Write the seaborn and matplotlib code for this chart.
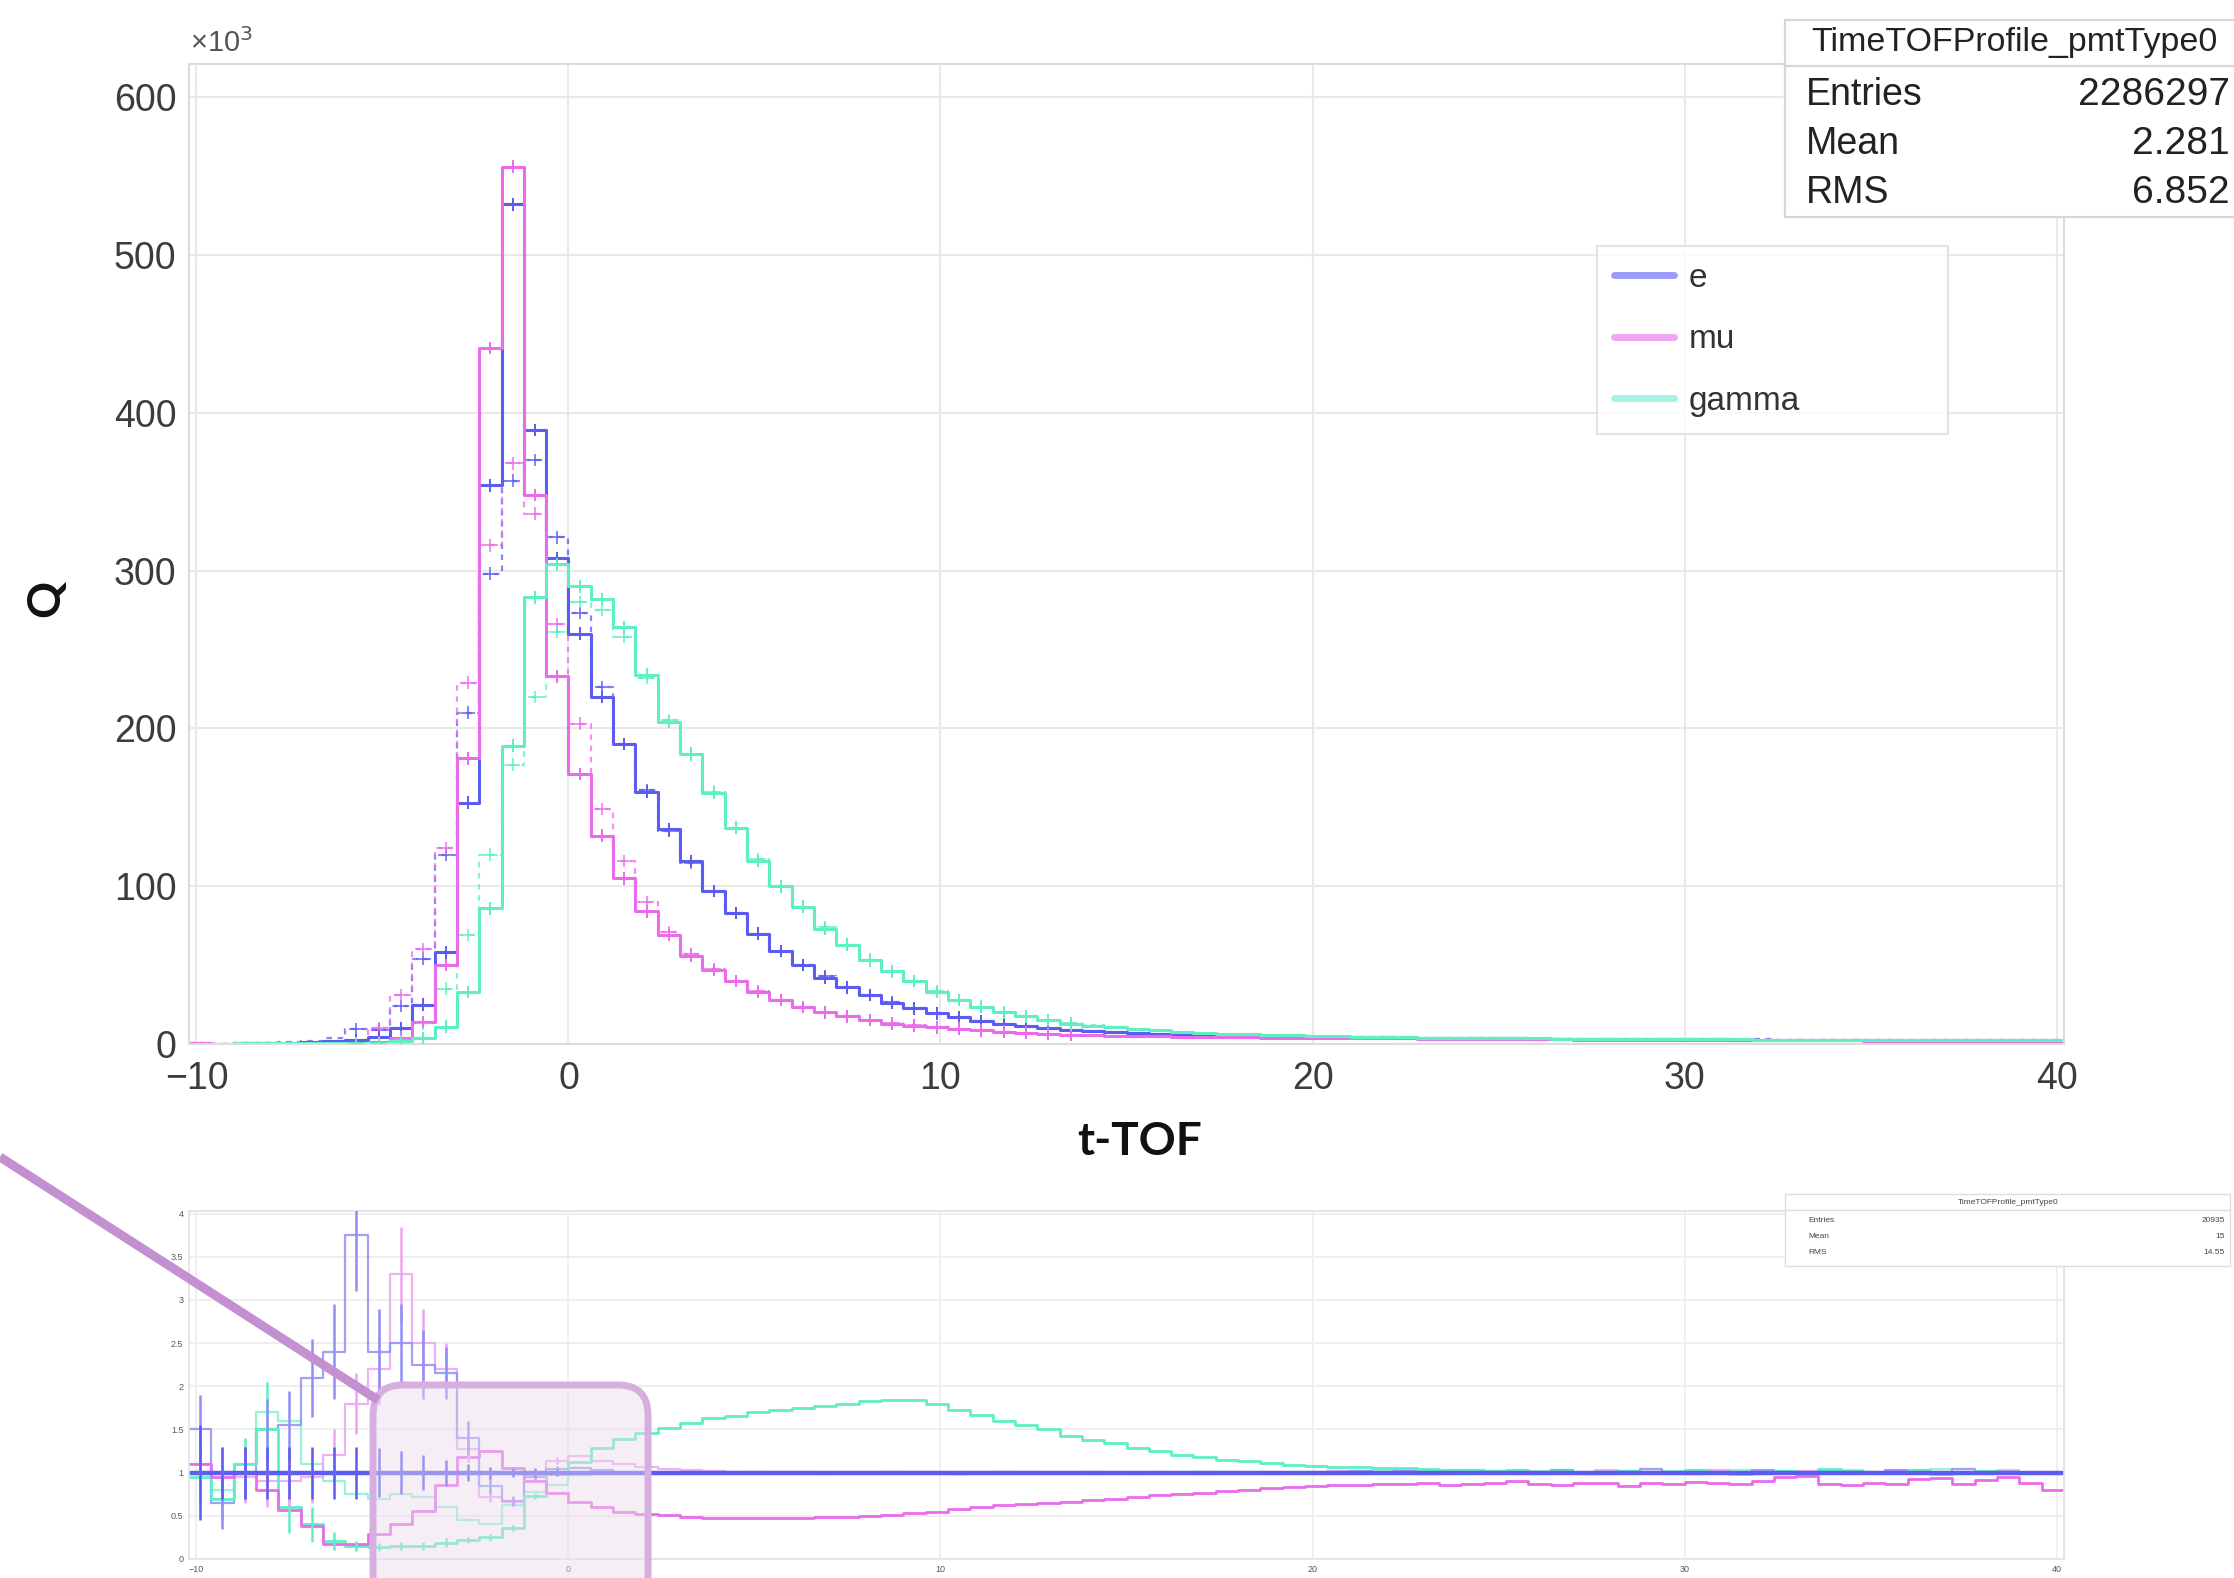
import numpy as np
import pandas as pd
import matplotlib
matplotlib.use("Agg")
import matplotlib.pyplot as plt
import seaborn as sns
from matplotlib.lines import Line2D
from matplotlib.patches import FancyBboxPatch, Rectangle
from matplotlib.ticker import MultipleLocator, FixedLocator, FixedFormatter
from matplotlib.transforms import IdentityTransform

# ---------------- data ----------------
bin_lo, bin_hi, n_bins = -10.2, 40.2, 84
x_ticks = [-10, 0, 10, 20, 30, 40]
x_ticklabels = ["\u221210", "0", "10", "20", "30", "40"]
y_ticks_top = [0, 100, 200, 300, 400, 500, 600]
y_ticks_bot = [0, 0.5, 1, 1.5, 2, 2.5, 3, 3.5, 4]
y_ticklabels_bot = ["0", "0.5", "1", "1.5", "2", "2.5", "3", "3.5", "4"]
series_names = ["e", "mu", "gamma"]

# top panel: Q per bin (x10^3), solid = sample A, dashed = sample B
e_solid = [0.3, 0.3, 0.4, 0.5, 0.7, 1.0, 1.6, 2.6, 4.5, 10,
           25, 58, 153, 354, 532, 389, 308, 260, 220, 190,
           160, 136, 116, 97, 83, 70, 59, 50, 42, 36,
           31, 26, 22.5, 19.5, 16.8, 14.5, 12.6, 11.2, 10.0, 9.0,
           8.2, 7.6, 7.0, 6.5, 6.1, 5.8, 5.5, 5.2, 5.0, 4.8,
           4.6, 4.4, 4.3, 4.15, 4.0, 3.9, 3.8, 3.7, 3.6, 3.5,
           3.4, 3.35, 3.3, 3.2, 3.15, 3.1, 3.0, 2.95, 2.9, 2.85,
           2.8, 2.75, 2.7, 2.65, 2.6, 2.55, 2.5, 2.45, 2.4, 2.4,
           2.35, 2.3, 2.3, 2.25]
mu_solid = [0.33, 0.3, 0.38, 0.4, 0.4, 0.38, 0.27, 0.45, 1.3, 4,
            14, 50, 181, 441, 556, 348, 233, 171, 132, 105,
            84, 69, 56, 47, 40, 33, 28, 23.4, 20, 17.6,
            15.2, 12.9, 11.7, 10.5, 9.7, 8.7, 7.8, 7.2, 6.5, 5.9,
            5.6, 5.2, 5.0, 4.8, 4.6, 4.4, 4.3, 4.15, 4.1, 4.0,
            3.9, 3.8, 3.75, 3.6, 3.5, 3.4, 3.3, 3.2, 3.15, 3.05,
            2.95, 2.9, 2.85, 2.8, 2.75, 2.7, 2.6, 2.55, 2.5, 2.45,
            2.4, 2.4, 2.35, 2.3, 2.25, 2.2, 2.15, 2.1, 2.1, 2.05,
            2.0, 2.0, 1.95, 1.9]
gamma_solid = [0.3, 0.2, 0.4, 0.7, 0.45, 0.4, 0.35, 0.4, 0.6, 1.6,
               3.5, 11, 33, 86, 189, 283, 304, 290, 282, 264,
               234, 204, 184, 159, 137, 116, 100, 87, 73, 63,
               53, 46, 40, 33, 28, 23.4, 20, 17.6, 15.2, 12.9,
               11.7, 10.5, 9.5, 8.6, 7.8, 7.1, 6.6, 6.1, 5.7, 5.4,
               5.1, 4.8, 4.6, 4.4, 4.25, 4.1, 4.0, 3.85, 3.7, 3.6,
               3.5, 3.4, 3.35, 3.25, 3.2, 3.1, 3.05, 3.0, 2.95, 2.9,
               2.85, 2.8, 2.75, 2.7, 2.65, 2.6, 2.55, 2.5, 2.45, 2.4,
               2.4, 2.35, 2.3, 2.25]
e_dash = [0.4, 0.3, 0.4, 0.75, 1.1, 2.1, 3.8, 9.6, 9, 24,
          54, 120, 210, 298, 357, 370, 321, 273, 226, 190,
          161, 135, 115, 97, 83, 70, 59, 50, 43, 36,
          31, 26.5, 22.5, 19.5, 17, 14.5, 12.8, 11.3, 10.0, 9.1,
          8.3, 7.6, 7.0, 6.6, 6.1, 5.8, 5.5, 5.3, 5.0, 4.8,
          4.6, 4.4, 4.35, 4.15, 4.1, 3.9, 3.75, 3.75, 3.65, 3.5,
          3.4, 3.45, 3.3, 3.15, 3.2, 3.2, 3.0, 2.9, 2.95, 2.85,
          2.9, 2.75, 2.7, 2.7, 2.65, 2.55, 2.6, 2.45, 2.4, 2.5,
          2.35, 2.3, 2.3, 2.25]
mu_dash = [0.35, 0.3, 0.36, 0.36, 0.36, 0.36, 0.4, 2.5, 10, 31,
           60, 124, 229, 316, 368, 336, 266, 203, 149, 116,
           90, 71, 57, 47.5, 40, 33.5, 28, 23.5, 20.2, 17.6,
           15.3, 13, 11.8, 10.6, 9.7, 8.8, 7.9, 7.2, 6.5, 5.9,
           5.6, 5.2, 5.0, 4.8, 4.6, 4.4, 4.3, 4.15, 4.1, 4.0,
           3.9, 3.8, 3.8, 3.6, 3.55, 3.4, 3.3, 3.25, 3.15, 3.05,
           3.0, 2.9, 2.85, 2.8, 2.75, 2.7, 2.65, 2.55, 2.5, 2.45,
           2.45, 2.4, 2.35, 2.3, 2.25, 2.25, 2.15, 2.1, 2.15, 2.05,
           2.0, 2.05, 1.95, 1.9]
gamma_dash = [0.3, 0.25, 0.35, 0.6, 0.5, 0.45, 0.4, 0.45, 0.8, 3,
              13, 35, 69, 120, 177, 220, 261, 280, 275, 258,
              232, 205, 183, 160, 137, 117, 100, 87, 74, 63,
              53.5, 46, 40, 33.5, 28, 23.6, 20.2, 17.6, 15.3, 13,
              11.8, 10.5, 9.6, 8.6, 7.8, 7.2, 6.6, 6.1, 5.7, 5.4,
              5.1, 4.85, 4.6, 4.45, 4.25, 4.1, 4.0, 3.85, 3.75, 3.6,
              3.5, 3.45, 3.35, 3.25, 3.2, 3.15, 3.05, 3.0, 2.95, 2.9,
              2.85, 2.8, 2.75, 2.75, 2.65, 2.6, 2.55, 2.55, 2.45, 2.4,
              2.4, 2.35, 2.3, 2.25]

# bottom panel: ratios
r_flat = [1.0, 1.0, 1.0, 1.0, 1.0, 1.0, 1.0, 1.0, 1.0, 1.0,
          1.0, 1.0, 1.0, 1.0, 1.0, 1.0, 1.0, 1.0, 1.0, 1.0,
          1.0, 1.0, 1.0, 1.0, 1.0, 1.0, 1.0, 1.0, 1.0, 1.0,
          1.0, 1.0, 1.0, 1.0, 1.0, 1.0, 1.0, 1.0, 1.0, 1.0,
          1.0, 1.0, 1.0, 1.0, 1.0, 1.0, 1.0, 1.0, 1.0, 1.0,
          1.0, 1.0, 1.0, 1.0, 1.0, 1.0, 1.0, 1.0, 1.0, 1.0,
          1.0, 1.0, 1.0, 1.0, 1.0, 1.0, 1.0, 1.0, 1.0, 1.0,
          1.0, 1.0, 1.0, 1.0, 1.0, 1.0, 1.0, 1.0, 1.0, 1.0,
          1.0, 1.0, 1.0, 1.0]
r_e_dash = [1.5, 0.65, 1.0, 1.5, 1.55, 2.1, 2.4, 3.75, 2.4, 2.5,
            2.25, 2.15, 1.4, 0.85, 0.67, 0.95, 1.04, 1.05, 1.03, 1.0,
            1.0, 0.99, 1.0, 1.0, 1.0, 1.01, 1.0, 1.0, 0.99, 1.0,
            1.0, 1.01, 1.0, 1.0, 0.99, 1.0, 1.01, 1.0, 1.0, 1.0,
            1.01, 1.0, 0.99, 1.0, 1.0, 1.01, 1.0, 1.0, 0.99, 1.0,
            1.01, 0.99, 1.02, 1.0, 1.03, 1.0, 0.99, 1.01, 1.02, 1.0,
            0.99, 1.03, 1.0, 0.98, 1.02, 1.04, 1.0, 0.99, 1.01, 1.0,
            1.03, 1.0, 0.99, 1.02, 1.01, 1.0, 1.03, 1.0, 0.99, 1.04,
            1.0, 1.01, 0.99, 1.0]
r_mu_dash = [1.1, 1.0, 0.95, 0.9, 0.9, 0.95, 1.2, 1.8, 2.2, 3.3,
             2.5, 2.2, 1.27, 0.72, 0.66, 0.97, 1.14, 1.19, 1.13, 1.1,
             1.07, 1.04, 1.03, 1.02, 1.01, 1.0, 1.0, 1.01, 1.0, 1.0,
             1.0, 1.0, 1.01, 1.0, 0.99, 1.0, 1.0, 1.01, 1.0, 1.0,
             0.99, 1.0, 1.0, 1.01, 1.0, 0.99, 1.0, 1.0, 1.01, 1.0,
             1.0, 1.02, 0.99, 1.0, 1.01, 0.98, 1.0, 1.02, 1.0, 0.99,
             1.01, 1.0, 0.98, 1.02, 1.0, 1.01, 0.99, 1.0, 1.03, 1.0,
             0.99, 1.01, 1.02, 1.0, 0.98, 1.0, 1.02, 1.0, 1.01, 0.99,
             1.0, 1.02, 1.0, 0.98]
r_mu = [1.1, 0.95, 1.0, 0.8, 0.57, 0.38, 0.17, 0.17, 0.29, 0.4,
        0.56, 0.86, 1.18, 1.25, 1.05, 0.9, 0.76, 0.66, 0.6, 0.55,
        0.52, 0.51, 0.49, 0.48, 0.48, 0.48, 0.48, 0.48, 0.49, 0.49,
        0.5, 0.51, 0.53, 0.55, 0.58, 0.6, 0.62, 0.64, 0.65, 0.66,
        0.68, 0.69, 0.72, 0.74, 0.75, 0.76, 0.79, 0.8, 0.82, 0.83,
        0.85, 0.86, 0.86, 0.87, 0.87, 0.88, 0.86, 0.87, 0.88, 0.9,
        0.87, 0.86, 0.88, 0.88, 0.84, 0.88, 0.87, 0.89, 0.88, 0.87,
        0.9, 0.95, 0.96, 0.87, 0.86, 0.88, 0.87, 0.93, 0.94, 0.87,
        0.92, 0.95, 0.88, 0.8]
r_gamma = [0.95, 0.7, 1.1, 1.5, 0.6, 0.4, 0.21, 0.15, 0.14, 0.15,
           0.15, 0.19, 0.22, 0.25, 0.36, 0.73, 0.99, 1.12, 1.28, 1.39,
           1.46, 1.52, 1.58, 1.63, 1.66, 1.7, 1.72, 1.75, 1.77, 1.8,
           1.83, 1.84, 1.84, 1.8, 1.72, 1.67, 1.6, 1.55, 1.5, 1.43,
           1.38, 1.34, 1.29, 1.25, 1.21, 1.18, 1.15, 1.13, 1.11, 1.09,
           1.08, 1.07, 1.06, 1.05, 1.05, 1.04, 1.03, 1.03, 1.02, 1.03,
           1.01, 1.02, 1.0, 1.01, 1.02, 1.0, 1.01, 1.03, 1.0, 0.99,
           1.01, 1.02, 1.0, 1.04, 1.02, 1.0, 1.01, 1.03, 0.99, 1.0,
           1.02, 1.01, 1.0, 1.0]
r_gamma_dash = [1.0, 0.8, 1.1, 1.7, 1.6, 1.1, 0.9, 0.75, 0.7, 0.75,
                0.72, 0.6, 0.45, 0.4, 0.62, 0.78, 0.86, 0.97, 0.98, 0.98,
                0.99, 1.0, 1.0, 0.99, 1.0, 1.0, 1.01, 1.0, 1.0, 1.0,
                1.0, 0.99, 1.0, 1.01, 1.0, 1.0, 1.0, 0.99, 1.0, 1.0,
                1.01, 1.0, 1.0, 1.0, 0.99, 1.0, 1.01, 1.0, 1.0, 1.0,
                0.99, 1.01, 1.0, 1.02, 1.0, 0.99, 1.01, 1.03, 1.0, 1.0,
                1.02, 1.0, 0.99, 1.03, 1.0, 1.01, 1.02, 0.99, 1.0, 1.03,
                1.0, 1.02, 1.01, 0.99, 1.03, 1.01, 1.0, 1.02, 1.04, 1.0,
                1.01, 1.03, 1.0, 1.0]
# error bars in the first 17 bins of the ratio panel
err_flat = [0.55, 0.3, 0.3, 0.3, 0.3, 0.3, 0.3, 0.3, 0.28, 0.25, 0.2, 0.15, 0.1, 0.07, 0.05, 0.05, 0.04]
err_e_dash = [0.4, 0.3, 0.3, 0.35, 0.4, 0.45, 0.55, 0.65, 0.5, 0.45, 0.4, 0.3, 0.2, 0.1, 0.06, 0.05, 0.04]
err_mu_dash = [0.3, 0.3, 0.3, 0.3, 0.3, 0.3, 0.3, 0.35, 0.4, 0.55, 0.4, 0.3, 0.15, 0.06, 0.05, 0.05, 0.04]
err_gamma = [0.3, 0.25, 0.3, 0.55, 0.3, 0.2, 0.1, 0.06, 0.05, 0.05, 0.05, 0.05, 0.04, 0.04, 0.03, 0.03, 0.03]

stats_top = [("Entries", "2286297"), ("Mean", "2.281"), ("RMS", "6.852")]
stats_bot = [("Entries", "20935"), ("Mean", "15"), ("RMS", "14.55")]
stats_title = "TimeTOFProfile_pmtType0"

# ---------------- style ----------------
sns.set_theme(style="white")
plt.rcParams["font.family"] = ["Liberation Sans", "DejaVu Sans"]
plt.rcParams["axes.unicode_minus"] = True

C_E, C_MU, C_G = "#5c5cf0", "#ea6cec", "#5eefc4"
C_E_L, C_MU_L, C_G_L = "#9c9cfb", "#f0a6f2", "#a6f3e4"

W, H = 2234, 1578
fig = plt.figure(figsize=(W / 100, H / 100), dpi=100)


def fx(px):
    return px / W


def fy(py):
    return 1 - py / H


edges = np.linspace(bin_lo, bin_hi, n_bins + 1)
centers = 0.5 * (edges[:-1] + edges[1:])
bin_list = [float(v) for v in edges]


def step_hist(axis, vals, **kw):
    df = pd.DataFrame({"t": centers, "w": np.asarray(vals, dtype=float)})
    sns.histplot(data=df, x="t", weights="w", bins=bin_list, element="step",
                 fill=False, ax=axis, **kw)


ax = fig.add_axes([fx(189), fy(1044), fx(2064) - fx(189), fy(64) - fy(1044)])
axb = fig.add_axes([fx(189), fy(1559), fx(2064) - fx(189), fy(1211) - fy(1559)])

# ---- top panel ----
top_series = [
    (e_dash, C_E, (0, (2.5, 2.5)), 1.6, 0.75),
    (mu_dash, C_MU, (0, (2.5, 2.5)), 1.6, 0.75),
    (gamma_dash, C_G, (0, (2.5, 2.5)), 1.6, 0.75),
    (e_solid, C_E, "-", 2.2, 1.0),
    (mu_solid, C_MU, "-", 2.2, 1.0),
    (gamma_solid, C_G, "-", 2.2, 1.0),
]
for vals, col, ls, lw, al in top_series:
    step_hist(ax, vals, color=col, linewidth=lw, linestyle=ls, alpha=al)
    sel = slice(7, 40)
    ax.errorbar(centers[sel], np.asarray(vals)[sel], yerr=4.0, xerr=0.2, fmt="none",
                ecolor=col, elinewidth=1.4, alpha=al, zorder=3)

ax.set_xlim(bin_lo, bin_hi)
ax.set_ylim(0, 621)
ax.xaxis.set_major_locator(FixedLocator(x_ticks))
ax.xaxis.set_major_formatter(FixedFormatter(x_ticklabels))
ax.yaxis.set_major_locator(FixedLocator(y_ticks_top))
ax.xaxis.set_minor_locator(MultipleLocator(2))
ax.yaxis.set_minor_locator(MultipleLocator(20))
ax.tick_params(which="both", direction="in", color="#c8c8c8", labelcolor="#3c3c3c",
               labelsize=27, top=False, right=False)
ax.tick_params(which="major", length=24, width=1.3)
ax.tick_params(which="minor", length=12, width=1.0)
ax.tick_params(axis="x", which="major", pad=12)
ax.tick_params(axis="y", which="major", pad=9)
ax.grid(True, which="major", color="#e9e9e9", lw=1.5)
ax.set_axisbelow(True)
ax.set_xlabel("")
ax.set_ylabel("")
for s in ax.spines.values():
    s.set_color("#dcdcdc")
    s.set_linewidth(1.5)

fig.text(fx(190), fy(58), "\u00d710$^3$", fontsize=21, color="#555555", ha="left", va="bottom")
fig.text(fx(1140), fy(1142), "t-TOF", fontsize=33, fontweight="bold", family=["Lato", "DejaVu Sans"],
         ha="center", va="center", color="#111111")
fig.text(fx(46), fy(598), "Q", fontsize=33, fontweight="bold", family=["Lato", "DejaVu Sans"],
         ha="center", va="center", rotation=90, color="#111111")

handles = [Line2D([], [], color=c, lw=5) for c in (C_E_L, C_MU_L, C_G_L)]
leg = ax.legend(handles, series_names, loc="upper left",
                bbox_to_anchor=(fx(1597), fy(430), fx(1948) - fx(1597), fy(246) - fy(430)),
                bbox_transform=fig.transFigure, mode="expand", borderaxespad=0,
                fontsize=24, frameon=True, fancybox=False, edgecolor="#dcdcdc",
                handlelength=1.8, handletextpad=0.45, labelspacing=0.92, borderpad=0.5)
leg.get_frame().set_linewidth(1.5)
for t in leg.get_texts():
    t.set_color("#333333")

# top stats box
fig.add_artist(Rectangle((fx(1785), fy(217)), fx(2240) - fx(1785), fy(20) - fy(217),
                         transform=fig.transFigure, facecolor="white", edgecolor="#d6d6d6",
                         lw=1.6, zorder=20))
fig.add_artist(Line2D([fx(1785), fx(2240)], [fy(66), fy(66)], transform=fig.transFigure,
                      color="#d6d6d6", lw=1.6, zorder=21))
fig.text(fx(2014), fy(42), stats_title, fontsize=24.5, ha="center", va="center", color="#222222", zorder=22)
for k, (lab, val) in enumerate(stats_top):
    yy = fy(95 + 49 * k)
    fig.text(fx(1806), yy, lab, fontsize=27, ha="left", va="center", color="#222222", zorder=22)
    fig.text(fx(2230), yy, val, fontsize=28, ha="right", va="center", color="#222222", zorder=22)

# ---- bottom (ratio) panel ----
bot_series = [
    (r_gamma_dash, "#7ef2d0", 1.6, 0.8),
    (r_mu_dash, "#eea4f3", 1.6, 0.85),
    (r_e_dash, "#8f8ff7", 1.6, 0.85),
    (r_gamma, C_G, 2.0, 1.0),
    (r_mu, C_MU, 2.0, 1.0),
    (r_flat, C_E, 3.2, 1.0),
]
for vals, col, lw, al in bot_series:
    step_hist(axb, vals, color=col, linewidth=lw, alpha=al)
nerr = len(err_flat)
for vals, errs, col in [(r_gamma, err_gamma, C_G), (r_mu_dash, err_mu_dash, "#eea4f3"),
                        (r_e_dash, err_e_dash, "#8f8ff7"), (r_flat, err_flat, C_E)]:
    axb.errorbar(centers[:nerr], vals[:nerr], yerr=errs, fmt="none", ecolor=col,
                 elinewidth=1.8, zorder=4)

axb.set_xlim(bin_lo, bin_hi)
axb.set_ylim(0, 4.03)
axb.xaxis.set_major_locator(FixedLocator(x_ticks))
axb.xaxis.set_major_formatter(FixedFormatter(x_ticklabels))
axb.yaxis.set_major_locator(FixedLocator(y_ticks_bot))
axb.yaxis.set_major_formatter(FixedFormatter(y_ticklabels_bot))
axb.xaxis.set_minor_locator(MultipleLocator(2))
axb.yaxis.set_minor_locator(MultipleLocator(0.1))
axb.tick_params(which="both", direction="in", color="#d0d0d0", labelcolor="#555555",
                labelsize=6.5, top=False, right=False)
axb.tick_params(which="major", length=14, width=1.0, pad=4)
axb.tick_params(which="minor", length=9, width=0.8)
axb.grid(True, which="major", color="#eeeeee", lw=1.3)
axb.set_axisbelow(True)
axb.set_xlabel("")
axb.set_ylabel("")
for s in axb.spines.values():
    s.set_color("#e2e2e2")
    s.set_linewidth(1.2)

# bottom stats box
fig.add_artist(Rectangle((fx(1785), fy(1266)), fx(2230) - fx(1785), fy(1194) - fy(1266),
                         transform=fig.transFigure, facecolor="white", edgecolor="#dddddd",
                         lw=1.0, zorder=20))
fig.add_artist(Line2D([fx(1785), fx(2230)], [fy(1210), fy(1210)], transform=fig.transFigure,
                      color="#dddddd", lw=1.0, zorder=21))
fig.text(fx(2008), fy(1202), stats_title, fontsize=6, ha="center", va="center", color="#444444", zorder=22)
for k, (lab, val) in enumerate(stats_bot):
    yy = fy(1220 + 16 * k)
    fig.text(fx(1808), yy, lab, fontsize=6, ha="left", va="center", color="#444444", zorder=22)
    fig.text(fx(2225), yy, val, fontsize=6, ha="right", va="center", color="#444444", zorder=22)

# ---- annotation: highlight box and pointer line ----
box = FancyBboxPatch((373, H - 1610), 275, 1610 - 1385,
                     boxstyle="round,pad=0,rounding_size=30",
                     transform=IdentityTransform(), facecolor="#e9dbeb", alpha=0.45,
                     edgecolor="none", zorder=30)
fig.add_artist(box)
box_edge = FancyBboxPatch((373, H - 1610), 275, 1610 - 1385,
                          boxstyle="round,pad=0,rounding_size=30",
                          transform=IdentityTransform(), facecolor="none",
                          edgecolor="#d6aee0", lw=5, zorder=31)
fig.add_artist(box_edge)
fig.add_artist(Line2D([0, 378], [H - 1157, H - 1400], transform=IdentityTransform(),
                      color="#c590d2", lw=6.5, solid_capstyle="butt", zorder=32))

fig.savefig("out.png", dpi=100, facecolor="white")
